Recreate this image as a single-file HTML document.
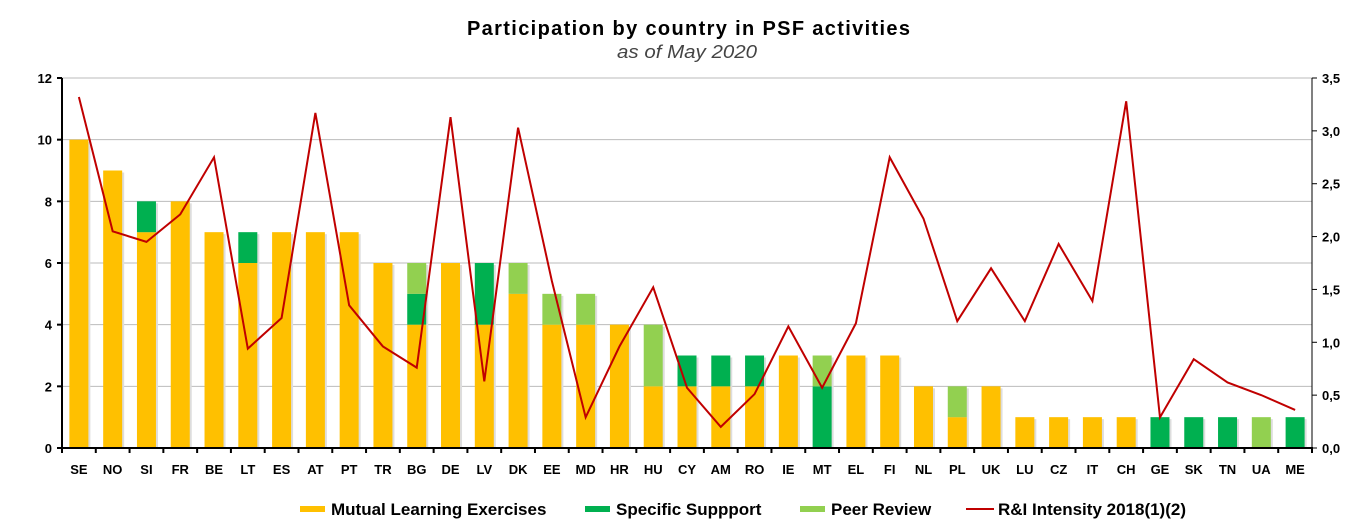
<!DOCTYPE html><html><head><meta charset="utf-8"><style>body{margin:0;background:#fff}svg{display:block;font-family:"Liberation Sans",Arial,sans-serif}</style></head><body>
<svg id="c" width="1367" height="532" xmlns="http://www.w3.org/2000/svg"></svg>
<script>
const cats="SE NO SI FR BE LT ES AT PT TR BG DE LV DK EE MD HR HU CY AM RO IE MT EL FI NL PL UK LU CZ IT CH GE SK TN UA ME".split(" ");
const bars=[[10,0,0],[9,0,0],[7,1,0],[8,0,0],[7,0,0],[6,1,0],[7,0,0],[7,0,0],[7,0,0],[6,0,0],[4,1,1],[6,0,0],[4,2,0],[5,0,1],[4,0,1],[4,0,1],[4,0,0],[2,0,2],[2,1,0],[2,1,0],[2,1,0],[3,0,0],[0,2,1],[3,0,0],[3,0,0],[2,0,0],[1,0,1],[2,0,0],[1,0,0],[1,0,0],[1,0,0],[1,0,0],[0,1,0],[0,1,0],[0,1,0],[0,0,1],[0,1,0]];
const line=[3.32,2.05,1.95,2.21,2.75,0.94,1.23,3.17,1.35,0.96,0.76,3.13,0.63,3.03,1.58,0.29,0.96,1.52,0.57,0.2,0.51,1.15,0.57,1.18,2.75,2.17,1.2,1.7,1.2,1.93,1.39,3.28,0.29,0.84,0.62,0.5,0.36];
const X0=62,X1=1312,Y0=448,Y1=78,n=cats.length,w=(X1-X0)/n,u=(Y0-Y1)/12,r=(Y0-Y1)/3.5;
const cols=["#FFC000","#00B050","#92D050"];
let s='<text x="467" y="35" font-size="20" font-weight="bold" textLength="443" lengthAdjust="spacing">Participation by country in PSF activities</text><text x="617" y="58" font-size="18" font-style="italic" fill="#444" textLength="140" lengthAdjust="spacingAndGlyphs">as of May 2020</text>';
for(let i=0;i<=6;i++){let y=Y0-i*2*u;if(i>0)s+=`<line x1="${X0}" x2="${X1}" y1="${y}" y2="${y}" stroke="#bbb" stroke-width="1"/>`;s+=`<text x="52" y="${y+5}" text-anchor="end" font-size="13" font-weight="bold">${i*2}</text>`;}
for(let i=0;i<=7;i++){let y=Y0-i*0.5*r;s+=`<line x1="${X1}" x2="${X1+5}" y1="${y}" y2="${y}" stroke="#000"/><text x="1322" y="${y+5}" font-size="13" font-weight="bold">${(i*0.5).toFixed(1).replace('.',',')}</text>`;}
cats.forEach((c,i)=>{let cx=X0+w*(i+0.5),bw=19,x=cx-bw/2,b=0;let tot=bars[i][0]+bars[i][1]+bars[i][2];
s+=`<rect x="${x+2}" y="${Y0-tot*u+2}" width="${bw}" height="${tot*u-2}" fill="#ddd"/>`;
[0,1,2].forEach(k=>{let v=bars[i][k];if(v){s+=`<rect x="${x}" y="${Y0-(b+v)*u}" width="${bw}" height="${v*u}" fill="${cols[k]}"/>`;b+=v;}});
s+=`<text x="${cx}" y="474" text-anchor="middle" font-size="13" font-weight="bold">${c}</text>`;
s+=`<line x1="${X0+w*i}" x2="${X0+w*i}" y1="${Y0}" y2="${Y0+5}" stroke="#000" stroke-width="2"/>`;});
s+=`<polyline fill="none" stroke="#C00000" stroke-width="2" points="${line.map((v,i)=>(X0+w*(i+0.5))+','+(Y0-v*r)).join(' ')}"/>`;
s+=`<line x1="${X0}" x2="${X0}" y1="${Y1}" y2="${Y0}" stroke="#000" stroke-width="2"/><line x1="${X0-5}" x2="${X0}" y1="${Y1}" y2="${Y1}" stroke="#000" stroke-width="2"/>`;
for(let i=0;i<=6;i++)s+=`<line x1="${X0-5}" x2="${X0}" y1="${Y0-i*2*u}" y2="${Y0-i*2*u}" stroke="#000" stroke-width="2"/>`;
s+=`<line x1="${X1}" x2="${X1}" y1="${Y1}" y2="${Y0}" stroke="#000"/><line x1="${X0}" x2="${X1+1}" y1="${Y0}" y2="${Y0}" stroke="#000" stroke-width="2"/><line x1="${X1}" x2="${X1}" y1="${Y0}" y2="${Y0+5}" stroke="#000" stroke-width="2"/>`;
const lg=[[300,"Mutual Learning Exercises",0],[585,"Specific Suppport",1],[800,"Peer Review",2]];
lg.forEach(([x,t,k])=>{s+=`<rect x="${x}" y="506" width="25" height="6" fill="${cols[k]}"/><text x="${x+31}" y="515" font-size="17" font-weight="bold">${t}</text>`;});
s+=`<line x1="966" x2="994" y1="509" y2="509" stroke="#C00000" stroke-width="2"/><text x="998" y="515" font-size="17" font-weight="bold">R&amp;I Intensity 2018(1)(2)</text>`;
document.getElementById('c').innerHTML=s;
</script></body></html>
